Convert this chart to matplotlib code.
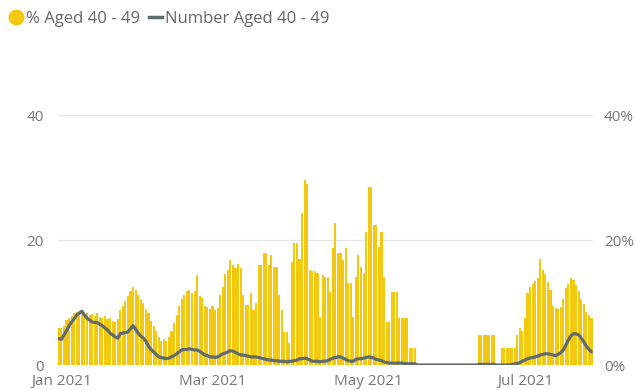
import matplotlib
matplotlib.use("Agg")
import matplotlib.pyplot as plt
from matplotlib.lines import Line2D
import pandas as pd

# Daily series, 31 Dec 2020 onwards
start_date = "2020-12-31"

pct_aged_40_49 = [
    6.0, 6.0, 6.2, 7.2, 7.5, 7.8, 8.3, 8.5, 8.6, 8.2,
    8.0, 8.4, 8.0, 8.2, 7.8, 8.3, 7.7, 7.5, 7.8, 7.4,
    7.6, 7.0, 6.9, 7.3, 8.8, 9.5, 10.2, 11.0, 11.8, 12.5,
    12.0, 11.2, 10.5, 10.0, 9.0, 8.3, 7.0, 6.2, 5.5, 4.5,
    3.8, 4.2, 3.9, 4.5, 5.5, 6.8, 8.0, 9.5, 10.5, 11.2,
    11.8, 12.0, 11.6, 11.8, 14.4, 11.0, 10.8, 9.5, 9.3, 9.0,
    9.4, 8.8, 9.2, 11.2, 12.5, 14.5, 15.2, 16.8, 16.0, 15.6,
    16.2, 15.5, 11.2, 9.6, 9.6, 11.5, 8.8, 10.0, 16.0, 16.0,
    18.0, 18.0, 16.0, 17.6, 15.7, 15.7, 11.2, 8.8, 5.3, 5.3,
    3.5, 16.5, 19.5, 19.5, 17.0, 24.3, 29.6, 29.0, 15.2, 15.0,
    15.0, 14.8, 7.7, 14.4, 14.1, 14.1, 11.7, 18.7, 22.7, 17.9,
    17.9, 16.8, 18.7, 13.1, 13.1, 7.7, 14.1, 17.6, 15.7, 14.7,
    21.3, 28.5, 28.5, 22.4, 22.4, 18.9, 21.3, 14.1, 6.9, 6.9,
    11.7, 11.7, 11.7, 7.5, 7.5, 7.5, 7.5, 2.7, 2.7, 2.7,
    0.0, 0.0, 0.0, 0.0, 0.0, 0.0, 0.0, 0.0, 0.0, 0.0,
    0.0, 0.0, 0.0, 0.0, 0.0, 0.0, 0.0, 0.0, 0.0, 0.0,
    0.0, 0.0, 0.0, 0.0, 4.8, 4.8, 4.8, 4.8, 4.8, 4.8,
    4.8, 0.0, 0.0, 2.8, 2.8, 2.8, 2.8, 2.8, 2.8, 4.8,
    5.9, 5.5, 7.5, 11.5, 12.5, 13.0, 13.5, 14.0, 17.0, 15.2,
    14.5, 13.3, 12.0, 9.5, 9.1, 9.0, 9.3, 10.5, 12.3, 13.0,
    13.9, 13.6, 12.8, 11.8, 10.5, 9.8, 8.5, 8.0, 7.6,
]

number_aged_40_49 = [
    4.2, 4.1, 4.8, 5.5, 6.3, 6.9, 7.4, 8.0, 8.3, 8.6,
    8.0, 7.5, 7.2, 6.9, 6.8, 6.8, 6.5, 6.3, 5.9, 5.6,
    5.1, 4.8, 4.5, 4.3, 5.0, 5.1, 5.2, 5.3, 5.8, 6.3,
    5.7, 5.1, 4.6, 4.3, 3.8, 3.0, 2.5, 2.1, 1.7, 1.3,
    1.2, 1.1, 1.0, 1.1, 1.3, 1.5, 1.8, 2.1, 2.4, 2.5,
    2.5, 2.6, 2.5, 2.4, 2.4, 2.2, 1.9, 1.6, 1.5, 1.3,
    1.3, 1.2, 1.3, 1.5, 1.8, 1.9, 2.1, 2.3, 2.2, 2.0,
    1.8, 1.6, 1.6, 1.5, 1.4, 1.3, 1.3, 1.3, 1.2, 1.1,
    1.0, 0.9, 0.8, 0.8, 0.7, 0.7, 0.6, 0.6, 0.6, 0.5,
    0.6, 0.6, 0.7, 0.8, 1.0, 1.0, 1.1, 1.0, 0.8, 0.6,
    0.6, 0.6, 0.5, 0.6, 0.6, 0.7, 0.9, 1.1, 1.2, 1.3,
    1.3, 1.1, 0.9, 0.7, 0.6, 0.6, 0.9, 1.0, 1.0, 1.1,
    1.2, 1.3, 1.2, 1.1, 0.9, 0.8, 0.7, 0.5, 0.4, 0.3,
    0.3, 0.3, 0.3, 0.3, 0.3, 0.2, 0.2, 0.2, 0.2, 0.2,
    0.0, 0.0, 0.0, 0.0, 0.0, 0.0, 0.0, 0.0, 0.0, 0.0,
    0.0, 0.0, 0.0, 0.0, 0.0, 0.0, 0.0, 0.0, 0.0, 0.0,
    0.0, 0.0, 0.0, 0.0, 0.1, 0.1, 0.1, 0.1, 0.1, 0.1,
    0.1, 0.0, 0.0, 0.0, 0.0, 0.0, 0.0, 0.1, 0.2, 0.2,
    0.4, 0.6, 0.8, 1.0, 1.1, 1.2, 1.3, 1.4, 1.6, 1.7,
    1.8, 1.8, 1.7, 1.6, 1.5, 1.7, 2.0, 2.4, 3.2, 4.0,
    4.7, 5.0, 5.0, 4.8, 4.3, 3.7, 3.0, 2.5, 2.1,
]

left_ticks = [0, 20, 40]
right_ticks = [0, 20, 40]
right_tick_labels = ["0%", "20%", "40%"]
month_ticks = ["2021-01-01", "2021-03-01", "2021-05-01", "2021-07-01"]
month_labels = ["Jan 2021", "Mar 2021", "May 2021", "Jul 2021"]
legend_labels = ["% Aged 40 - 49", "Number Aged 40 - 49"]

BAR_COLOR = "#F2C811"
LINE_COLOR = "#5F6B6D"
TEXT_COLOR = "#777777"
GRID_COLOR = "#E6E6E6"

plt.rcParams["font.family"] = ["Open Sans", "DejaVu Sans"]

dates = pd.date_range(start_date, periods=len(pct_aged_40_49), freq="D")

fig = plt.figure(figsize=(6.36, 3.90), dpi=100)
ax = fig.add_axes([0.0905, 0.0641, 0.8415, 0.641])
ax2 = ax.twinx()

# bars on the percentage axis (right), line on the count axis (left)
ax2.bar(dates, pct_aged_40_49, width=0.82, color=BAR_COLOR, linewidth=0, zorder=2)
ax.plot(dates, number_aged_40_49, color=LINE_COLOR, linewidth=2.3,
        solid_capstyle="round", solid_joinstyle="round", zorder=3)

ax.set_zorder(ax2.get_zorder() + 1)
ax.patch.set_visible(False)

ax.set_ylim(0, 40)
ax2.set_ylim(0, 40)
ax.set_xlim(dates[0] - pd.Timedelta(hours=12), dates[-1] + pd.Timedelta(hours=12))

ax.set_yticks(left_ticks)
ax.set_yticklabels([str(t) for t in left_ticks])
ax2.set_yticks(right_ticks)
ax2.set_yticklabels(right_tick_labels)

ax.set_xticks(pd.to_datetime(month_ticks))
ax.set_xticklabels(month_labels)

for a in (ax, ax2):
    for s in a.spines.values():
        s.set_visible(False)
    a.tick_params(length=0, colors=TEXT_COLOR, labelsize=11)

ax.tick_params(axis="y", pad=10)
ax2.tick_params(axis="y", pad=8)
ax.tick_params(axis="x", pad=6.5)

# horizontal gridlines at 20 and 40
ax2.set_axisbelow(True)
ax2.grid(axis="y", color=GRID_COLOR, linewidth=1.0)
ax.grid(False)

handles = [
    Line2D([], [], linestyle="none", marker="o", markersize=10.5,
           markerfacecolor=BAR_COLOR, markeredgecolor=BAR_COLOR),
    Line2D([], [], color=LINE_COLOR, linewidth=2.5),
]
fig.legend(handles, legend_labels, loc="upper left", bbox_to_anchor=(-0.003, 1.0),
           ncol=2, frameon=False, fontsize=12, labelcolor="#666666",
           handlelength=0.8, handletextpad=0.2, columnspacing=0.55,
           borderaxespad=0.35, borderpad=0.3)

fig.savefig("out.png", dpi=100)
